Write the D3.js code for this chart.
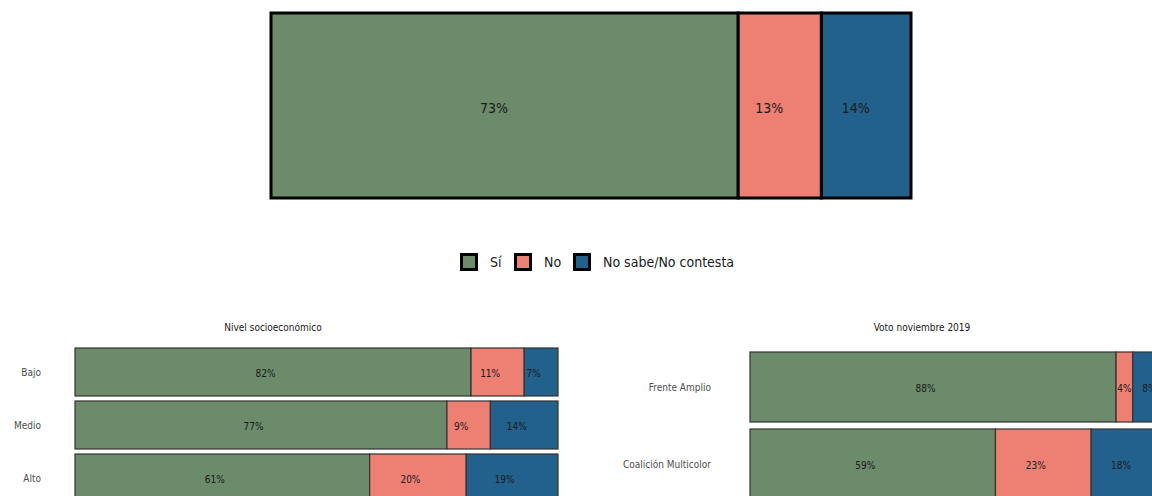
<!DOCTYPE html>
<meta charset="utf-8">
<style>
  body { margin: 0; background: #fff; }
  svg { display: block; font-family: "DejaVu Sans Condensed", "Liberation Sans Narrow", sans-serif; }
  .seg-label { fill: #1a1a1a; text-anchor: middle; }
  .grp-label { fill: #4d4d4d; text-anchor: end; font-size: 10px; }
  .panel-title { fill: #1a1a1a; text-anchor: middle; font-size: 10px; }
</style>
<svg width="1152" height="496"></svg>
<script src="https://d3js.org/d3.v7.min.js"></script>
<script>

// answers
var categories = ["Sí", "No", "No sabe/No contesta"];
var colors = ["#6b8b6a", "#ee7f73", "#22618c"];

// overall result
var totalValues = [73, 13, 14];

// by socioeconomic level
var nseGroups = ["Bajo", "Medio", "Alto"];
var nseSi = [82, 77, 61];
var nseNo = [11, 9, 20];
var nseNs = [7, 14, 19];

// by vote in november 2019
var votoGroups = ["Frente Amplio", "Coalición Multicolor"];
var votoSi = [88, 59];
var votoNo = [4, 23];
var votoNs = [8, 18];

var svg = d3.select("svg"),
  width = +svg.attr("width");
var color = d3.scaleOrdinal().domain(categories).range(colors);

// turn three value arrays into stacked segments per group
function stackRows(groups, cols) {
  return groups.map(function(g, i) {
    var x0 = 0;
    return {
      group: g,
      segs: categories.map(function(c, j) {
        var v = cols[j][i];
        var s = {cat: c, value: v, x0: x0, x1: x0 + v};
        x0 += v;
        return s;
      })
    };
  });
}

// labels sit a bit left of centre when there is room, else centred
function placeLabels(sel, x, size) {
  sel.each(function(d) {
    var a = x(d.x0), b = Math.min(x(d.x1), width);
    var w = this.getComputedTextLength();
    var off = 0.75 * size;
    var shift = (b - a - w) / 2 > off + 2 ? -off : 0;
    d3.select(this).attr("x", (x(d.x0) + x(d.x1)) / 2 + shift);
  });
}

// ---- top bar
var xTop = d3.scaleLinear().domain([0, 100]).range([271, 911]);
var topRow = stackRows(["Total"], [[totalValues[0]], [totalValues[1]], [totalValues[2]]])[0];

var topG = svg.append("g");
topG.selectAll("rect")
  .data(topRow.segs)
  .enter().append("rect")
  .attr("x", function(d) { return xTop(d.x0); })
  .attr("width", function(d) { return xTop(d.x1) - xTop(d.x0); })
  .attr("y", 13)
  .attr("height", 185)
  .attr("fill", function(d) { return color(d.cat); })
  .attr("stroke", "#000")
  .attr("stroke-width", 3);

topG.selectAll("text")
  .data(topRow.segs)
  .enter().append("text")
  .attr("class", "seg-label")
  .attr("y", 108)
  .attr("dy", "0.35em")
  .style("font-size", "14px")
  .text(function(d) { return d.value + "%"; })
  .call(placeLabels, xTop, 14);

// ---- legend
var legendX = [460, 514, 573];
var legend = svg.append("g").selectAll("g")
  .data(categories)
  .enter().append("g")
  .attr("transform", function(d, i) { return "translate(" + legendX[i] + ",253)"; });

legend.append("rect")
  .attr("x", 1.5).attr("y", 1.5)
  .attr("width", 15).attr("height", 15)
  .attr("fill", function(d) { return color(d); })
  .attr("stroke", "#000")
  .attr("stroke-width", 3);

legend.append("text")
  .attr("x", 30)
  .attr("y", 9)
  .attr("dy", "0.35em")
  .style("font-size", "14px")
  .style("fill", "#1a1a1a")
  .text(function(d) { return d; });

// ---- small panels
function panel(opts) {
  var rows = stackRows(opts.groups, opts.cols);
  var x = d3.scaleLinear().domain([0, 100]).range([opts.x0, opts.x1]);
  var y = d3.scaleBand()
    .domain(opts.groups)
    .range([opts.y0, opts.y1])
    .paddingInner(opts.pad)
    .paddingOuter(0);

  var g = svg.append("g");

  g.append("text")
    .attr("class", "panel-title")
    .attr("x", opts.titleX)
    .attr("y", 327)
    .attr("dy", "0.35em")
    .text(opts.title);

  var row = g.selectAll(".row")
    .data(rows)
    .enter().append("g")
    .attr("class", "row")
    .attr("transform", function(d) { return "translate(0," + y(d.group) + ")"; });

  row.append("text")
    .attr("class", "grp-label")
    .attr("x", opts.labelX)
    .attr("y", y.bandwidth() / 2)
    .attr("dy", "0.35em")
    .text(function(d) { return d.group; });

  row.selectAll("rect")
    .data(function(d) { return d.segs; })
    .enter().append("rect")
    .attr("x", function(d) { return x(d.x0); })
    .attr("width", function(d) { return x(d.x1) - x(d.x0); })
    .attr("height", y.bandwidth())
    .attr("fill", function(d) { return color(d.cat); })
    .attr("stroke", "#333")
    .attr("stroke-width", 1.2);

  row.selectAll(".seg-label")
    .data(function(d) { return d.segs; })
    .enter().append("text")
    .attr("class", "seg-label")
    .attr("y", y.bandwidth() / 2 + 1)
    .attr("dy", "0.35em")
    .style("font-size", "10px")
    .text(function(d) { return d.value + "%"; })
    .call(placeLabels, x, 10);
}

panel({
  title: "Nivel socioeconómico", titleX: 273,
  groups: nseGroups, cols: [nseSi, nseNo, nseNs],
  x0: 75, x1: 558, y0: 348, y1: 502, pad: 5 / 53, labelX: 41
});

panel({
  title: "Voto noviembre 2019", titleX: 922,
  groups: votoGroups, cols: [votoSi, votoNo, votoNs],
  x0: 750, x1: 1166, y0: 352, y1: 499, pad: 7 / 77, labelX: 711
});

</script>
